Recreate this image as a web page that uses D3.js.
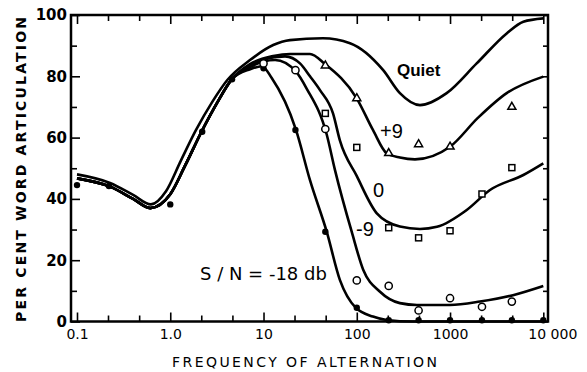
<!DOCTYPE html>
<html>
<head>
<meta charset="utf-8">
<script src="https://cdn.jsdelivr.net/npm/d3@7"></script>
<style>
    body { margin: 0; background: #fff; }
    #chart { width: 587px; height: 372px; }
    .tick line { stroke: #000; stroke-width: 1.6; }
    .tick text { fill: #000; }
</style>
</head>
<body>
<div id="chart"></div>
<script>

// measured points, [frequency, per cent]
const dotsMinus18 = [[0.1, 44.5], [0.22, 44.2], [1, 38.2], [2.2, 61.9], [4.6, 79], [10, 82.6], [22, 62.5],
    [46, 29.3], [100, 4.5], [220, 0.4], [460, 0.4], [1000, 0.4], [2200, 0.4], [4600, 0.4], [10000, 0.4]];
const circlesMinus9 = [[10, 84.2], [22, 82], [46, 62.8], [100, 13.4], [220, 11.6], [460, 3.6],
    [1000, 7.6], [2200, 4.8], [4600, 6.5]];
const squaresZero = [[46, 67.9], [100, 56.8], [220, 30.6], [460, 27.3], [1000, 29.6], [2200, 41.6], [4600, 50.2]];
const trianglesPlus9 = [[46, 83.5], [100, 72.8], [220, 54.9], [460, 57.8], [1000, 57], [4600, 70]];

// fitted curves
const lowPart = [[0.1, 46.7], [0.226, 44], [0.4, 40], [0.61, 37], [1.0, 41.5], [1.45, 51], [2.17, 62],
    [3.2, 71.5], [4.56, 79]];
const curveQuiet = [[0.1, 48], [0.226, 45.2], [0.4, 41.3], [0.62, 38.2], [0.9, 42.5], [1.3, 52.5],
    [1.89, 62.5], [2.8, 71.5], [4.09, 78.8], [7.16, 85.3], [12.7, 90.2], [19.2, 91.8], [43.4, 92.4], [84.6, 90.8],
    [192, 82], [290, 74.5], [476, 70.6], [920, 74.5], [1930, 84.2], [4050, 94], [6110, 97.8], [10000, 98.9]];
const curvePlus9 = lowPart.concat([[7.16, 84], [12.7, 86.6], [19.2, 87.3], [31.5, 87.3], [45.6, 84], [99.8, 72.8],
    [149, 62.5], [209, 54.9], [290, 53.5], [421, 52.9], [998, 57], [2000, 66.5], [4050, 74.5], [10000, 79.9]]);
const curveZero = lowPart.concat([[7.16, 83.5], [10, 85.5], [17, 86.5], [24.6, 84.2], [31.5, 80], [40.3, 75.5],
    [55.6, 67.9], [66, 59], [99.8, 47.5], [164, 35.3], [290, 31], [476, 30.2], [724, 30.9], [1510, 36.4],
    [2680, 42.9], [6110, 47.8], [10000, 51.6]]);
const curveMinus9 = lowPart.concat([[7.16, 83], [10, 84.8], [13.3, 85.3], [22.3, 81.5], [29, 76], [47.6, 61],
    [58.4, 49.4], [88.2, 29.3], [117.5, 16.8], [177.5, 9.7], [290, 6], [442, 5.4], [998, 5.4], [2094, 6.5],
    [4730, 8.6], [10000, 11.6]]);
const curveMinus18 = lowPart.concat([[7.16, 82.3], [9.6, 83.3], [12.2, 79.5], [22.3, 62.5], [31.5, 46.1],
    [47.6, 29.3], [66, 13.5], [97.3, 4.5], [149, 1.6], [209, 0.5], [400, 0], [10000, 0]]);

// axes
const xMajorTicks = [0.1, 1, 10, 100, 1000, 10000];
const xTickLabels = ["0.1", "1.0", "10", "100", "1000", "10 000"];
const xMinorTicks = [0.215, 0.464, 2.15, 4.64, 21.5, 46.4, 215, 464, 2154, 4642];
const yMajorTicks = [0, 20, 40, 60, 80, 100];
const yMinorTicks = [10, 30, 50, 70, 90];

class ArticulationChart {

    constructor(parentElement) {
        this.parentElement = parentElement;
    }

    initVis() {
        let vis = this;

        vis.margin = {top: 15, right: 39, bottom: 50.5, left: 71};
        vis.width = 587 - vis.margin.left - vis.margin.right;
        vis.height = 372 - vis.margin.top - vis.margin.bottom;

        vis.svg = d3.select("#" + vis.parentElement).append("svg")
            .attr("width", 587)
            .attr("height", 372)
            .append("g")
            .attr("transform", `translate(${vis.margin.left}, ${vis.margin.top})`);

        // Scales
        vis.x = d3.scaleLog()
            .domain([0.1, 10000])
            .range([6, 472.3]);
        vis.y = d3.scaleLinear()
            .domain([0, 100])
            .range([vis.height, 0]);

        vis.line = d3.line()
            .x(d => vis.x(d[0]))
            .y(d => vis.y(d[1]))
            .curve(d3.curveMonotoneX);

        vis.drawAxes();
        vis.updateVis();
    }

    drawAxes() {
        let vis = this;
        let sans = "'DejaVu Sans', sans-serif";

        // bottom
        vis.svg.append("g")
            .attr("transform", `translate(0, ${vis.height})`)
            .call(d3.axisBottom(vis.x).tickValues(xMinorTicks).tickSize(-6).tickFormat(""));
        vis.svg.append("g")
            .attr("class", "x-axis")
            .attr("transform", `translate(0, ${vis.height})`)
            .call(d3.axisBottom(vis.x).tickValues(xMajorTicks).tickSize(-9).tickPadding(8)
                .tickFormat((d, i) => xTickLabels[i]))
            .selectAll("text")
            .attr("font-family", sans)
            .attr("font-size", 14)
            .attr("dx", (d, i) => i === xMajorTicks.length - 1 ? 9 : 0);

        // top
        vis.svg.append("g")
            .call(d3.axisTop(vis.x).tickValues(xMinorTicks).tickSize(-6).tickFormat(""));
        vis.svg.append("g")
            .call(d3.axisTop(vis.x).tickValues(xMajorTicks).tickSize(-9).tickFormat(""));

        // left
        vis.svg.append("g")
            .call(d3.axisLeft(vis.y).tickValues(yMinorTicks).tickSize(-6).tickFormat(""));
        vis.svg.append("g")
            .call(d3.axisLeft(vis.y).tickValues(yMajorTicks).tickSize(-9).tickPadding(4))
            .selectAll("text")
            .attr("font-family", sans)
            .attr("font-weight", "bold")
            .attr("font-size", 15);

        // right
        vis.svg.append("g")
            .attr("transform", `translate(${vis.width}, 0)`)
            .call(d3.axisRight(vis.y).tickValues(yMinorTicks.concat(yMajorTicks)).tickSize(-5).tickFormat(""));

        vis.svg.selectAll(".domain").remove();

        vis.svg.append("rect")
            .attr("width", vis.width)
            .attr("height", vis.height)
            .attr("fill", "none")
            .attr("stroke", "#000")
            .attr("stroke-width", 2.5);

        // axis titles
        vis.svg.append("text")
            .text("FREQUENCY OF ALTERNATION")
            .attr("x", 101)
            .attr("y", vis.height + 45)
            .attr("textLength", 265)
            .attr("lengthAdjust", "spacing")
            .attr("font-family", sans)
            .attr("font-size", 14);
        vis.svg.append("text")
            .text("PER CENT WORD ARTICULATION")
            .attr("transform", "rotate(-90)")
            .attr("x", -vis.height - 0.5)
            .attr("y", -45)
            .attr("textLength", 305)
            .attr("lengthAdjust", "spacing")
            .attr("font-family", sans)
            .attr("font-weight", "bold")
            .attr("font-size", 14);
    }

    updateVis() {
        let vis = this;

        // curves
        [curveQuiet, curvePlus9, curveZero, curveMinus9, curveMinus18].forEach(c => {
            vis.svg.append("path")
                .datum(c)
                .attr("fill", "none")
                .attr("stroke", "#000")
                .attr("stroke-width", 2.6)
                .attr("d", vis.line);
        });

        // markers
        vis.svg.selectAll(".dot")
            .data(dotsMinus18)
            .enter().append("circle")
            .attr("class", "dot")
            .attr("cx", d => vis.x(d[0]))
            .attr("cy", d => vis.y(d[1]))
            .attr("r", 3.2)
            .attr("fill", "#000");

        vis.svg.selectAll(".ring")
            .data(circlesMinus9)
            .enter().append("circle")
            .attr("class", "ring")
            .attr("cx", d => vis.x(d[0]))
            .attr("cy", d => vis.y(d[1]))
            .attr("r", 3.6)
            .attr("fill", "#fff")
            .attr("stroke", "#000")
            .attr("stroke-width", 1.5);

        vis.svg.selectAll(".square")
            .data(squaresZero)
            .enter().append("rect")
            .attr("class", "square")
            .attr("x", d => vis.x(d[0]) - 3)
            .attr("y", d => vis.y(d[1]) - 3)
            .attr("width", 6)
            .attr("height", 6)
            .attr("fill", "#fff")
            .attr("stroke", "#000")
            .attr("stroke-width", 1.5);

        vis.svg.selectAll(".tri")
            .data(trianglesPlus9)
            .enter().append("path")
            .attr("class", "tri")
            .attr("transform", d => `translate(${vis.x(d[0])}, ${vis.y(d[1])})`)
            .attr("d", d3.symbol(d3.symbolTriangle, 28))
            .attr("fill", "#fff")
            .attr("stroke", "#000")
            .attr("stroke-width", 1.5);

        // labels
        let labels = [
            {text: "Quiet", x: 326, y: 61, size: 17, weight: "bold"},
            {text: "+9", x: 309, y: 122.5, size: 20, weight: "normal"},
            {text: "0", x: 302, y: 182, size: 20, weight: "normal"},
            {text: "-9", x: 285, y: 220.5, size: 20, weight: "normal"},
        ];
        labels.forEach(l => {
            vis.svg.append("text")
                .text(l.text)
                .attr("x", l.x)
                .attr("y", l.y)
                .attr("font-family", "'Liberation Sans', Arial, sans-serif")
                .attr("font-size", l.size)
                .attr("font-weight", l.weight);
        });
        vis.svg.append("text")
            .text("S / N = -18 db")
            .attr("x", 129)
            .attr("y", 265)
            .attr("font-family", "'DejaVu Sans', sans-serif")
            .attr("font-size", 18);
    }
}

let chart = new ArticulationChart("chart");
chart.initVis();

</script>
</body>
</html>
